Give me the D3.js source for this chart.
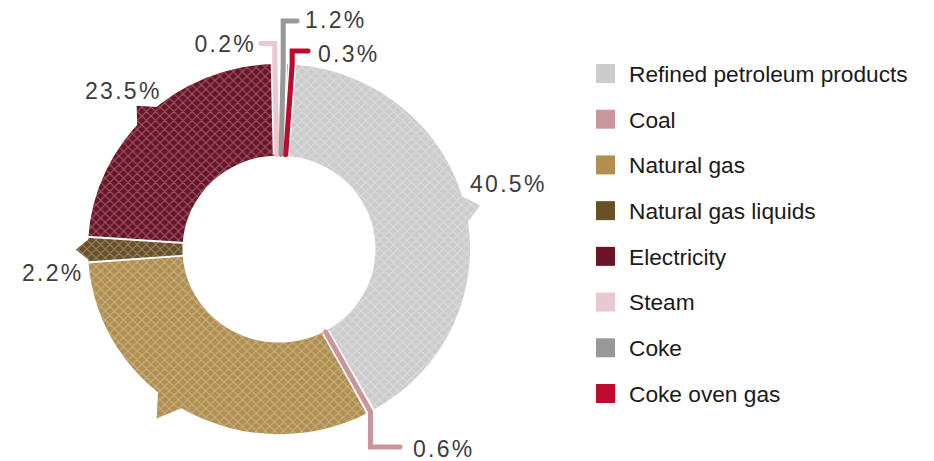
<!DOCTYPE html>
<html><head><meta charset="utf-8">
<script src="https://cdn.jsdelivr.net/npm/d3@7"></script>
<style>
body{margin:0;background:#fff}
svg{display:block}
text{font-family:"Liberation Sans", Arial, Helvetica, sans-serif}
</style>
</head><body>
<svg id="chart" width="934" height="461"></svg>
<script>
// ---- data ----
const categories = ["Refined petroleum products","Coal","Natural gas","Natural gas liquids","Electricity","Steam","Coke","Coke oven gas"];
const shares = [40.5, 0.6, 31.5, 2.2, 23.5, 0.2, 1.2, 0.3];
const colors = ["#cccccc","#c9979b","#b08f50","#6a5026","#6b1428","#eac8d0","#989898","#be0a2c"];
const percentLabels = ["40.5%","0.6%",null,"2.2%","23.5%","0.2%","1.2%","0.3%"];

// ---- layout ----
const cx = 279, cy = 249, R = 188, R0 = 95, startDeg = 4.5;
const sx = 1.016, sy = 0.985;
const rad = Math.PI / 180;
const callouts = {
  0: {type:"tail", ext:15, tx:470, ty:192},
  2: {type:"tail", ext:22, tipDeg:215},
  3: {type:"tail", ext:12, tx:22, ty:281},
  4: {type:"tail", ext:14, tx:85, ty:99},
  1: {type:"leader", yH:447, xEnd:400, tx:413, ty:457},
  5: {type:"leader", yH:43.5, xEnd:261, tx:256, ty:52, anchor:"end"},
  6: {type:"leader", yH:21, xEnd:297, tx:305, ty:28},
  7: {type:"leader", yH:51, xEnd:308, tx:318, ty:62}
};

const svg = d3.select("#chart");
const defs = svg.append("defs");
const pat = defs.append("pattern").attr("id","hatch")
  .attr("patternUnits","userSpaceOnUse").attr("width",9).attr("height",9);
pat.append("path").attr("d","M0,0L9,9M9,0L0,9M-1,8L1,10M8,-1L10,1")
  .attr("stroke","#fff").attr("stroke-opacity",0.3).attr("stroke-width",1).attr("fill","none");

const pie = d3.pie().sort(null).value(d => d)
  .startAngle(startDeg*rad).endAngle(startDeg*rad + 2*Math.PI);
const arcs = pie(shares);
const arc = d3.arc().innerRadius(R0).outerRadius(R);
const pt = (a, r) => [r*Math.sin(a), -r*Math.cos(a)];

const g = svg.append("g").attr("transform",`translate(${cx},${cy}) scale(${sx},${sy})`);

function shapePath(d, i){
  let p = arc(d);
  const c = callouts[i];
  if (c && c.type === "tail"){
    const mid = (d.startAngle + d.endAngle)/2;
    const half = Math.min(5*rad, (d.endAngle - d.startAngle)/2);
    const tipA = c.tipDeg != null ? c.tipDeg*rad : mid;
    const b1 = pt(tipA - half, R - 3), b2 = pt(tipA + half, R - 3), tip = pt(tipA, R + c.ext);
    p += `M${b1}L${tip}L${b2}Z`;
  }
  return p;
}

// slice fills + hatch
const slices = g.selectAll("g.slice").data(arcs).join("g").attr("class","slice");
slices.append("path").attr("d", shapePath).attr("fill", (d,i) => colors[i]);
slices.append("path").attr("d", shapePath).attr("fill", "url(#hatch)");

// white separators
g.selectAll("line.sep").data(arcs).join("line").attr("class","sep")
  .attr("x1", d => pt(d.startAngle, R0 - 2)[0]).attr("y1", d => pt(d.startAngle, R0 - 2)[1])
  .attr("x2", d => pt(d.startAngle, R + 2)[0]).attr("y2", d => pt(d.startAngle, R + 2)[1])
  .attr("stroke","#fff").attr("stroke-width",2);

// leaders for small slices
const leaderIdx = arcs.map((d,i)=>i).filter(i => callouts[i] && callouts[i].type === "leader");
function leaderPts(i){
  const d = arcs[i], c = callouts[i];
  const mid = (d.startAngle + d.endAngle)/2;
  const a = pt(mid, R0 + 1), b = pt(mid, R);
  const yH = (c.yH - cy) / sy, xE = (c.xEnd - cx) / sx;
  return [a, b, [b[0], yH], [xE, yH]];
}
const line = d3.line();
g.selectAll("path.case").data(leaderIdx).join("path").attr("class","case")
  .attr("d", i => line(leaderPts(i))).attr("fill","none")
  .attr("stroke","#fff").attr("stroke-width",8).attr("stroke-linejoin","miter");
g.selectAll("path.lead").data(leaderIdx).join("path").attr("class","lead")
  .attr("d", i => line(leaderPts(i))).attr("fill","none")
  .attr("stroke", i => colors[i]).attr("stroke-width",5)
  .attr("stroke-linejoin","miter").attr("stroke-linecap","round");

// percent labels
const labIdx = arcs.map((d,i)=>i).filter(i => percentLabels[i] && callouts[i] && callouts[i].tx != null);
svg.selectAll("text.pct").data(labIdx).join("text").attr("class","pct")
  .attr("x", i => callouts[i].tx).attr("y", i => callouts[i].ty)
  .attr("text-anchor", i => callouts[i].anchor || "start")
  .attr("font-size", 23).attr("letter-spacing", 2.3).attr("fill", "#3d3d3d")
  .text(i => percentLabels[i]);

// legend
const ly = d3.scalePoint().domain(categories).range([73.5, 393.5]);
const leg = svg.append("g").selectAll("g").data(categories).join("g")
  .attr("transform", d => `translate(596,${ly(d)})`);
leg.append("rect").attr("x",0).attr("y",-9.5).attr("width",19).attr("height",19)
  .attr("fill", (d,i) => colors[i]);
leg.append("text").attr("x",33).attr("y",8.3).attr("font-size",22.7).attr("fill","#1a1a1a")
  .text(d => d);
</script>
</body></html>
